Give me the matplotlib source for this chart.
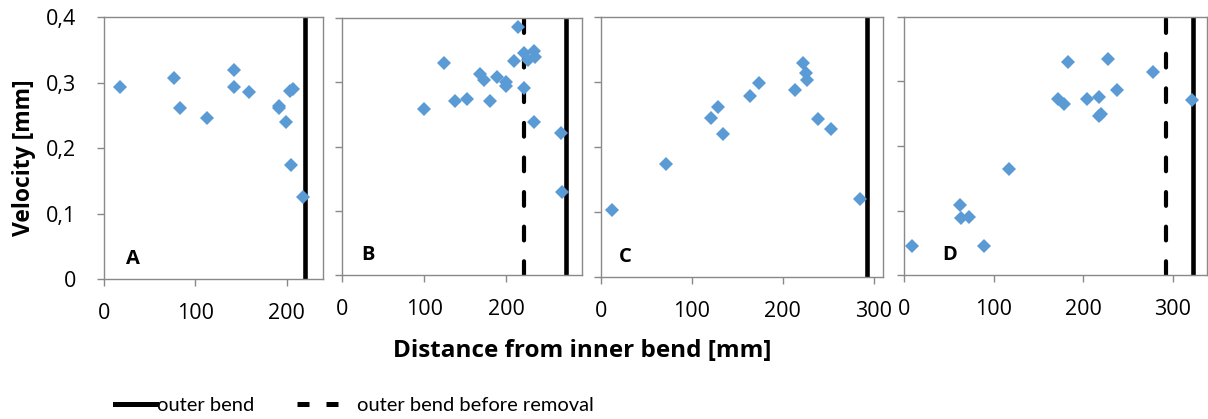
import matplotlib
matplotlib.use("Agg")
import matplotlib.pyplot as plt
from matplotlib.lines import Line2D
from matplotlib.ticker import FuncFormatter

plt.rcParams['font.family'] = ['Open Sans', 'DejaVu Sans']

# Panel A
a_x = [18, 77, 83, 113, 143, 143, 159, 192, 192, 199, 204, 207, 205, 218]
a_y = [0.294, 0.307, 0.261, 0.246, 0.320, 0.294, 0.286, 0.264, 0.261, 0.240, 0.287, 0.291, 0.174, 0.125]
# Panel B
b_x = [100, 124, 138, 152, 168, 173, 180, 189, 200, 200, 209, 214, 222, 221, 226, 233, 235, 233, 266, 268]
b_y = [0.258, 0.330, 0.271, 0.274, 0.313, 0.304, 0.271, 0.308, 0.301, 0.294, 0.334, 0.386, 0.292, 0.346,
       0.335, 0.349, 0.339, 0.238, 0.221, 0.129]
# Panel C
c_x = [12, 72, 121, 129, 134, 164, 174, 213, 222, 225, 227, 238, 253, 285]
c_y = [0.103, 0.174, 0.245, 0.262, 0.220, 0.278, 0.299, 0.287, 0.329, 0.313, 0.303, 0.243, 0.228, 0.120]
# Panel D
d_x = [9, 62, 64, 72, 89, 117, 172, 179, 183, 204, 217, 217, 220, 228, 238, 278, 321]
d_y = [0.046, 0.108, 0.088, 0.090, 0.046, 0.164, 0.272, 0.265, 0.330, 0.272, 0.276, 0.247, 0.249,
       0.334, 0.286, 0.314, 0.271]

panel_names = ['A', 'B', 'C', 'D']
panel_x = [a_x, b_x, c_x, d_x]
panel_y = [a_y, b_y, c_y, d_y]
x_max = [240, 292, 310, 338]
x_ticks = [[0, 100, 200], [0, 100, 200], [0, 100, 200, 300], [0, 100, 200, 300]]
outer_bend = [220, 272, 292, 322]
outer_before = [None, 221, None, 292]
y_ticks = [0, 0.1, 0.2, 0.3, 0.4]

W, H = 1208, 419
# left, right, top, bottom in pixels
boxes = [(104, 323, 17.3, 279.3), (342, 582, 18.3, 275), (601, 883, 16.7, 277.3), (904, 1207, 16.7, 275.3)]
label_pos = [0.1, 0.08, 0.064, 0.126]

fig = plt.figure(figsize=(W / 100, H / 100), dpi=100)

grey = '#898989'
blue = '#5B9BD5'

for i in range(4):
    l, r, t, b = boxes[i]
    ax = fig.add_axes([l / W, 1 - b / H, (r - l) / W, (b - t) / H])
    ax.plot(panel_x[i], panel_y[i], 'D', color=blue, markersize=7, markeredgewidth=0, zorder=3)
    ax.axvline(outer_bend[i], color='black', linewidth=3.3, zorder=2)
    if outer_before[i] is not None:
        ax.axvline(outer_before[i], color='black', linewidth=3.0, dashes=(3.3, 5.0),
                   dash_capstyle='round', zorder=2)
    ax.set_xlim(0, x_max[i])
    ax.set_ylim(0, 0.4)
    ax.set_xticks(x_ticks[i])
    ax.set_yticks(y_ticks)
    ax.yaxis.set_major_formatter(FuncFormatter(lambda v, p: '0' if v == 0 else f'{v:.1f}'.replace('.', ',')))
    if i > 0:
        ax.tick_params(axis='y', labelleft=False)
    ax.tick_params(direction='out', length=5, width=1, color=grey, labelsize=15.5)
    ax.tick_params(axis='y', pad=15)
    ax.tick_params(axis='x', pad=12)
    for s in ax.spines.values():
        s.set_color(grey)
        s.set_linewidth(1)
    ax.text(label_pos[i], 0.04, panel_names[i], transform=ax.transAxes, fontsize=14.5,
            fontweight='bold', ha='left', va='bottom')

fig.text(24 / W, 1 - 158 / H, 'Velocity [mm]', rotation=90, ha='center', va='center',
         fontsize=16.5, fontweight='bold')
fig.text(582 / W, 1 - 351 / H, 'Distance from inner bend [mm]', ha='center', va='center',
         fontsize=17.5, fontweight='bold')

solid = Line2D([], [], color='black', linewidth=3.6)
dashed = Line2D([], [], color='black', linewidth=3.6, dashes=(2.4, 3.4))
fig.legend(handles=[solid], labels=['outer bend'], loc='center left',
           bbox_to_anchor=(115 / W, 1 - 405 / H), frameon=False,
           prop={'family': 'Lato', 'size': 14.5},
           handlelength=2.05, handletextpad=0.05, borderaxespad=0, borderpad=0)
fig.legend(handles=[dashed], labels=['outer bend before removal'], loc='center left',
           bbox_to_anchor=(297 / W, 1 - 405 / H), frameon=False,
           prop={'family': 'Lato', 'size': 14.5},
           handlelength=2.85, handletextpad=0.15, borderaxespad=0, borderpad=0)

fig.savefig('out.png', dpi=100)
